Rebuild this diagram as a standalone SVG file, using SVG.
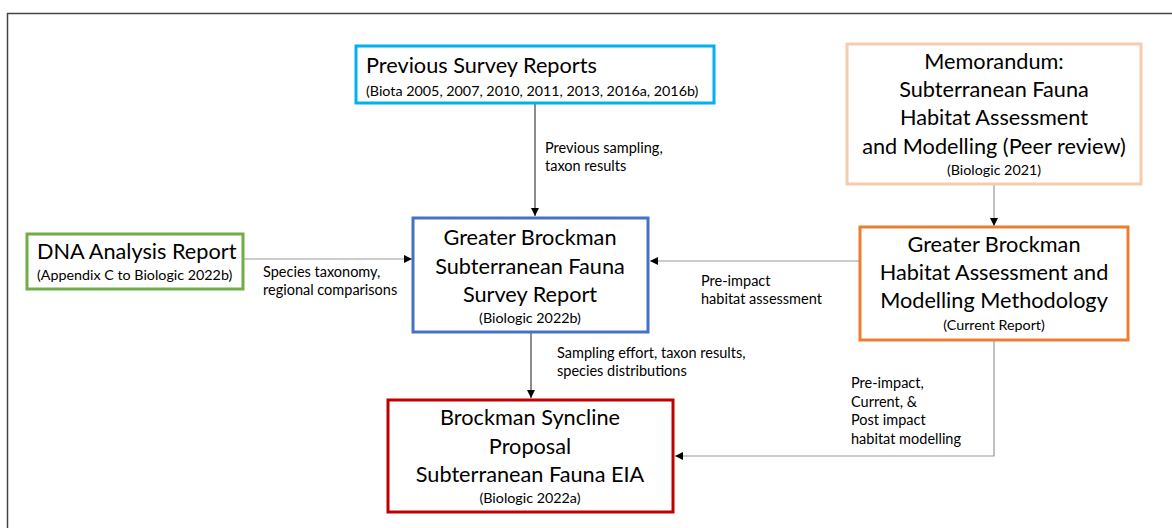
<svg xmlns="http://www.w3.org/2000/svg" width="1172" height="528" viewBox="0 0 1172 528">
<defs>
<marker id="ah" viewBox="0 0 10 10" refX="10" refY="5" markerWidth="8" markerHeight="8" markerUnits="userSpaceOnUse" orient="auto">
<path d="M0,0 L10,5 L0,10 z" fill="#000"/>
</marker>
<style>
text{font-family:Lato,"Open Sans","Liberation Sans",sans-serif;fill:#000}
.t{font-size:21.7px}
.s{font-size:14.3px}
.l{font-size:14.5px}
.c{text-anchor:middle}
.box{fill:#fff;stroke-width:3}
.con{fill:none;stroke-width:1.2}
</style>
</defs>
<rect width="1172" height="528" fill="#fff"/>
<path d="M7.5,528 V13.5 H1172" fill="none" stroke="#444" stroke-width="1.5"/>

<g id="connectors">
<path class="con" d="M535,104 V216" stroke="#404040" marker-end="url(#ah)"/>
<path class="con" d="M994,185 V226" stroke="#999" marker-end="url(#ah)"/>
<path class="con" d="M244,259 H412" stroke="#999" marker-end="url(#ah)"/>
<path class="con" d="M859,261 H650" stroke="#999" marker-end="url(#ah)"/>
<path class="con" d="M531,333 V398" stroke="#404040" marker-end="url(#ah)"/>
<path class="con" d="M994,341 V456 H675" stroke="#999" marker-end="url(#ah)"/>
<text class="l" x="545" y="153">Previous sampling,</text>
<text class="l" x="545" y="171">taxon results</text>
<text class="l" x="263" y="277">Species taxonomy,</text>
<text class="l" x="263" y="295">regional comparisons</text>
<text class="l" x="701" y="286">Pre-impact</text>
<text class="l" x="701" y="304">habitat assessment</text>
<text class="l" x="557" y="358">Sampling effort, taxon results,</text>
<text class="l" x="557" y="376">species distributions</text>
<text class="l" x="851" y="388">Pre-impact,</text>
<text class="l" x="851" y="407">Current, &amp;</text>
<text class="l" x="851" y="425">Post impact</text>
<text class="l" x="851" y="444">habitat modelling</text>
</g>

<g id="previous-survey">
<rect class="box" x="356" y="46" width="358" height="57" stroke="#00B0F0"/>
<text class="t" x="366" y="73">Previous Survey Reports</text>
<text class="s" x="366" y="96">(Biota 2005, 2007, 2010, 2011, 2013, 2016a, 2016b)</text>
</g>

<g id="memorandum">
<rect class="box" x="847" y="44" width="294" height="140" stroke="#F8CBAD"/>
<text class="t c" x="994" y="69">Memorandum:</text>
<text class="t c" x="994" y="97">Subterranean Fauna</text>
<text class="t c" x="994" y="125">Habitat Assessment</text>
<text class="t c" x="994" y="154">and Modelling (Peer review)</text>
<text class="s c" x="994" y="175">(Biologic 2021)</text>
</g>

<g id="dna">
<rect class="box" x="27" y="234" width="216" height="55" stroke="#70AD47"/>
<text class="t" x="37" y="259">DNA Analysis Report</text>
<text class="s" x="37" y="280">(Appendix C to Biologic 2022b)</text>
</g>

<g id="survey-report">
<rect class="box" x="413" y="218" width="235" height="114" stroke="#4472C4"/>
<text class="t c" x="530" y="245">Greater Brockman</text>
<text class="t c" x="530" y="274">Subterranean Fauna</text>
<text class="t c" x="530" y="302">Survey Report</text>
<text class="s c" x="530" y="323">(Biologic 2022b)</text>
</g>

<g id="methodology">
<rect class="box" x="860" y="227" width="268" height="113" stroke="#ED7D31"/>
<text class="t c" x="994" y="252">Greater Brockman</text>
<text class="t c" x="994" y="280">Habitat Assessment and</text>
<text class="t c" x="994" y="308">Modelling Methodology</text>
<text class="s c" x="994" y="330">(Current Report)</text>
</g>

<g id="eia">
<rect class="box" x="388" y="400" width="285" height="112" stroke="#C00000"/>
<text class="t c" x="530" y="425">Brockman Syncline</text>
<text class="t c" x="530" y="454">Proposal</text>
<text class="t c" x="530" y="482">Subterranean Fauna EIA</text>
<text class="s c" x="530" y="503">(Biologic 2022a)</text>
</g>
</svg>
